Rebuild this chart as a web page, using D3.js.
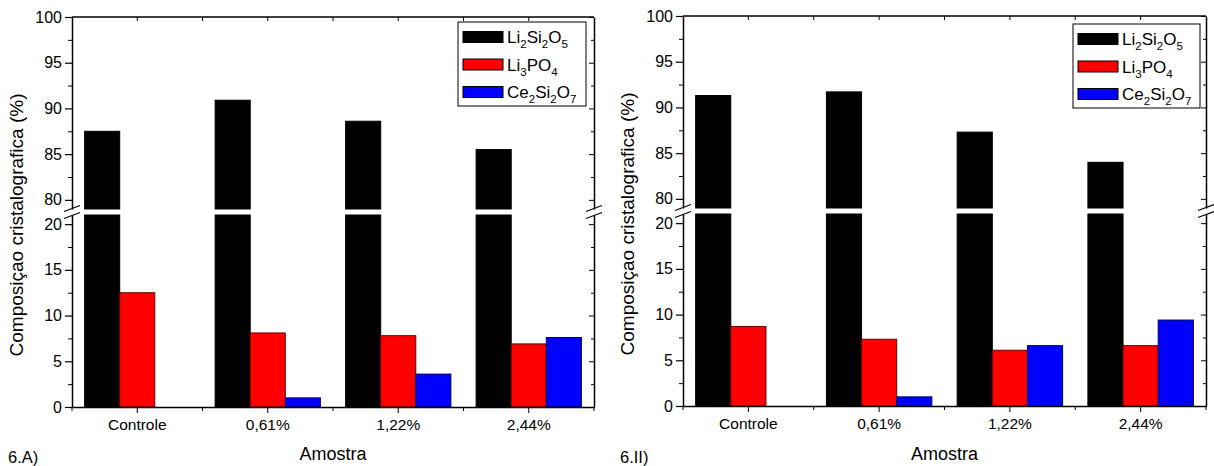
<!DOCTYPE html>
<html>
<head>
<meta charset="utf-8">
<script src="https://cdn.jsdelivr.net/npm/d3@7"></script>
<style>
  body { margin: 0; background: #fff; }
  svg text { font-family: "Liberation Sans", Arial, sans-serif; fill: #000; }
</style>
</head>
<body>
<div id="chart"></div>
<script>
// data
var categories = ["Controle", "0,61%", "1,22%", "2,44%"];
var li2si2o5A = [87.5, 90.9, 88.6, 85.5];
var li3po4A = [12.5, 8.1, 7.8, 6.9];
var ce2si2o7A = [0, 1.0, 3.6, 7.6];
var li2si2o5B = [91.3, 91.7, 87.3, 84.0];
var li3po4B = [8.7, 7.3, 6.1, 6.6];
var ce2si2o7B = [0, 1.0, 6.6, 9.4];
var lowTicks = [0, 5, 10, 15, 20];
var highTicks = [80, 85, 90, 95, 100];
// legend labels: [text, subscript?]
var legendLabels = [
    [["Li", 0], ["2", 1], ["Si", 0], ["2", 1], ["O", 0], ["5", 1]],
    [["Li", 0], ["3", 1], ["PO", 0], ["4", 1]],
    [["Ce", 0], ["2", 1], ["Si", 0], ["2", 1], ["O", 0], ["7", 1]]
];
var fills = ["#000000", "#ff0000", "#0000ff"];
var strokes = ["#000000", "#6b0000", "#000060"];

var svg = d3.select("#chart").append("svg")
    .attr("width", 1214)
    .attr("height", 466);

function drawPanel(p) {
    var g = svg.append("g");
    var gap = 6;
    var k = (p.bottom - p.top - gap) / 42;
    var yLow = d3.scaleLinear().domain([0, 21]).range([p.bottom, p.bottom - 21 * k]);
    var yHigh = d3.scaleLinear().domain([79, 100]).range([p.top + 21 * k, p.top]);
    var x = d3.scaleBand().domain(categories).range([p.x0, p.x1]);
    var xs = d3.scaleBand().domain([0, 1, 2]).range([0, x.bandwidth()])
        .paddingInner(0).paddingOuter(0.36);

    var series = [p.s1, p.s2, p.s3];
    series.forEach(function (vals, si) {
        var bars = g.append("g");
        vals.forEach(function (v, ci) {
            if (v <= 0) return;
            var bx = x(categories[ci]) + xs(si);
            var lowTop = Math.min(v, 21);
            bars.append("rect")
                .attr("x", bx).attr("width", xs.bandwidth())
                .attr("y", yLow(lowTop))
                .attr("height", yLow(0) - yLow(lowTop))
                .attr("fill", fills[si])
                .attr("stroke", strokes[si])
                .attr("stroke-width", 1);
            if (v > 79) {
                bars.append("rect")
                    .attr("x", bx).attr("width", xs.bandwidth())
                    .attr("y", yHigh(v))
                    .attr("height", yHigh(79) - yHigh(v))
                    .attr("fill", fills[si])
                    .attr("stroke", strokes[si])
                    .attr("stroke-width", 1);
            }
        });
    });

    // left axes (two segments)
    function minorOf(ticks) {
        return ticks.slice(0, -1).map(function (t) { return t + 2.5; });
    }
    [[yLow, lowTicks], [yHigh, highTicks]].forEach(function (pair) {
        var sc = pair[0], tk = pair[1];
        var ax = g.append("g")
            .attr("transform", "translate(" + p.x0 + ",0)")
            .call(d3.axisLeft(sc).tickValues(tk).tickSize(7).tickSizeOuter(0).tickPadding(3));
        ax.selectAll("text").style("font-size", "16px");
        ax.select(".domain").attr("stroke-width", 1.5);
        ax.selectAll(".tick line").attr("stroke-width", 1.2);
        g.append("g")
            .attr("transform", "translate(" + p.x0 + ",0)")
            .call(d3.axisLeft(sc).tickValues(minorOf(tk)).tickSize(4).tickFormat(""))
            .call(function (s) { s.select(".domain").remove(); });
        // mirrored ticks on the right border
        var rx = g.append("g")
            .attr("transform", "translate(" + p.x1 + ",0)")
            .call(d3.axisLeft(sc).tickValues(tk).tickSize(5).tickSizeOuter(0).tickFormat(""));
        rx.select(".domain").attr("stroke-width", 1.5);
        g.append("g")
            .attr("transform", "translate(" + p.x1 + ",0)")
            .call(d3.axisLeft(sc).tickValues(minorOf(tk)).tickSize(3).tickFormat(""))
            .call(function (s) { s.select(".domain").remove(); });
    });

    // bottom axis
    var bx = g.append("g")
        .attr("transform", "translate(0," + p.bottom + ")")
        .call(d3.axisBottom(x).tickSize(6).tickSizeOuter(0).tickPadding(6));
    bx.selectAll("text").style("font-size", "15.5px");
    bx.select(".domain").attr("stroke-width", 1.5);
    var edges = categories.map(function (c) { return x(c); }).concat([p.x1]);
    edges.forEach(function (ex) {
        g.append("line").attr("x1", ex).attr("x2", ex)
            .attr("y1", p.bottom).attr("y2", p.bottom + 4)
            .attr("stroke", "#000").attr("stroke-width", 1);
    });

    // top border with inward ticks
    g.append("line").attr("x1", p.x0).attr("x2", p.x1)
        .attr("y1", p.top).attr("y2", p.top)
        .attr("stroke", "#000").attr("stroke-width", 1.5);
    var topMarks = edges.slice(1, -1).concat(categories.map(function (c) {
        return x(c) + x.bandwidth() / 2;
    }));
    topMarks.forEach(function (tx) {
        g.append("line").attr("x1", tx).attr("x2", tx)
            .attr("y1", p.top).attr("y2", p.top + 4)
            .attr("stroke", "#000").attr("stroke-width", 1);
    });

    // break marks
    var midBreak = (yLow(21) + yHigh(79)) / 2;
    [p.x0, p.x1].forEach(function (ax) {
        [-3.5, 3.5].forEach(function (dy) {
            g.append("line")
                .attr("x1", ax - 8).attr("y1", midBreak + dy + 3)
                .attr("x2", ax + 8).attr("y2", midBreak + dy - 3)
                .attr("stroke", "#000").attr("stroke-width", 1.2);
        });
    });

    // legend
    var lg = g.append("g");
    lg.append("rect")
        .attr("x", p.lx).attr("y", p.ly)
        .attr("width", p.lw).attr("height", 84)
        .attr("fill", "#fff").attr("stroke", "#000").attr("stroke-width", 1);
    legendLabels.forEach(function (parts, i) {
        var cy = p.ly + 15 + i * 27.5;
        lg.append("rect")
            .attr("x", p.lx + 5).attr("y", cy - 5.5)
            .attr("width", 40).attr("height", 11)
            .attr("fill", fills[i]).attr("stroke", "#000").attr("stroke-width", 1);
        var t = lg.append("text")
            .attr("x", p.lx + 49).attr("y", cy + 6)
            .style("font-size", "17px");
        parts.forEach(function (pt, j) {
            var ts = t.append("tspan").text(pt[0]);
            if (pt[1]) {
                ts.attr("dy", 5).style("font-size", "11.5px");
            } else if (j > 0 && parts[j - 1][1]) {
                ts.attr("dy", -5);
            }
        });
    });

    // titles
    g.append("text")
        .attr("transform", "translate(" + p.tx + "," + p.ty + ") rotate(-90)")
        .attr("text-anchor", "middle")
        .style("font-size", "19px")
        .text("Composiçao cristalografica (%)");
    g.append("text")
        .attr("x", (p.x0 + p.x1) / 2 + 0).attr("y", 460)
        .attr("text-anchor", "middle")
        .style("font-size", "18px")
        .text("Amostra");
    g.append("text")
        .attr("x", p.labx).attr("y", 463)
        .style("font-size", "16.5px")
        .text(p.label);
}

drawPanel({x0: 72, x1: 594, top: 17, bottom: 407, s1: li2si2o5A, s2: li3po4A, s3: ce2si2o7A,
    lx: 458, ly: 22, lw: 128, tx: 23, ty: 225, labx: 8, label: "6.A)"});
drawPanel({x0: 683, x1: 1206, top: 16, bottom: 406, s1: li2si2o5B, s2: li3po4B, s3: ce2si2o7B,
    lx: 1073, ly: 24, lw: 127, tx: 634, ty: 224, labx: 620, label: "6.II)"});
</script>
</body>
</html>
